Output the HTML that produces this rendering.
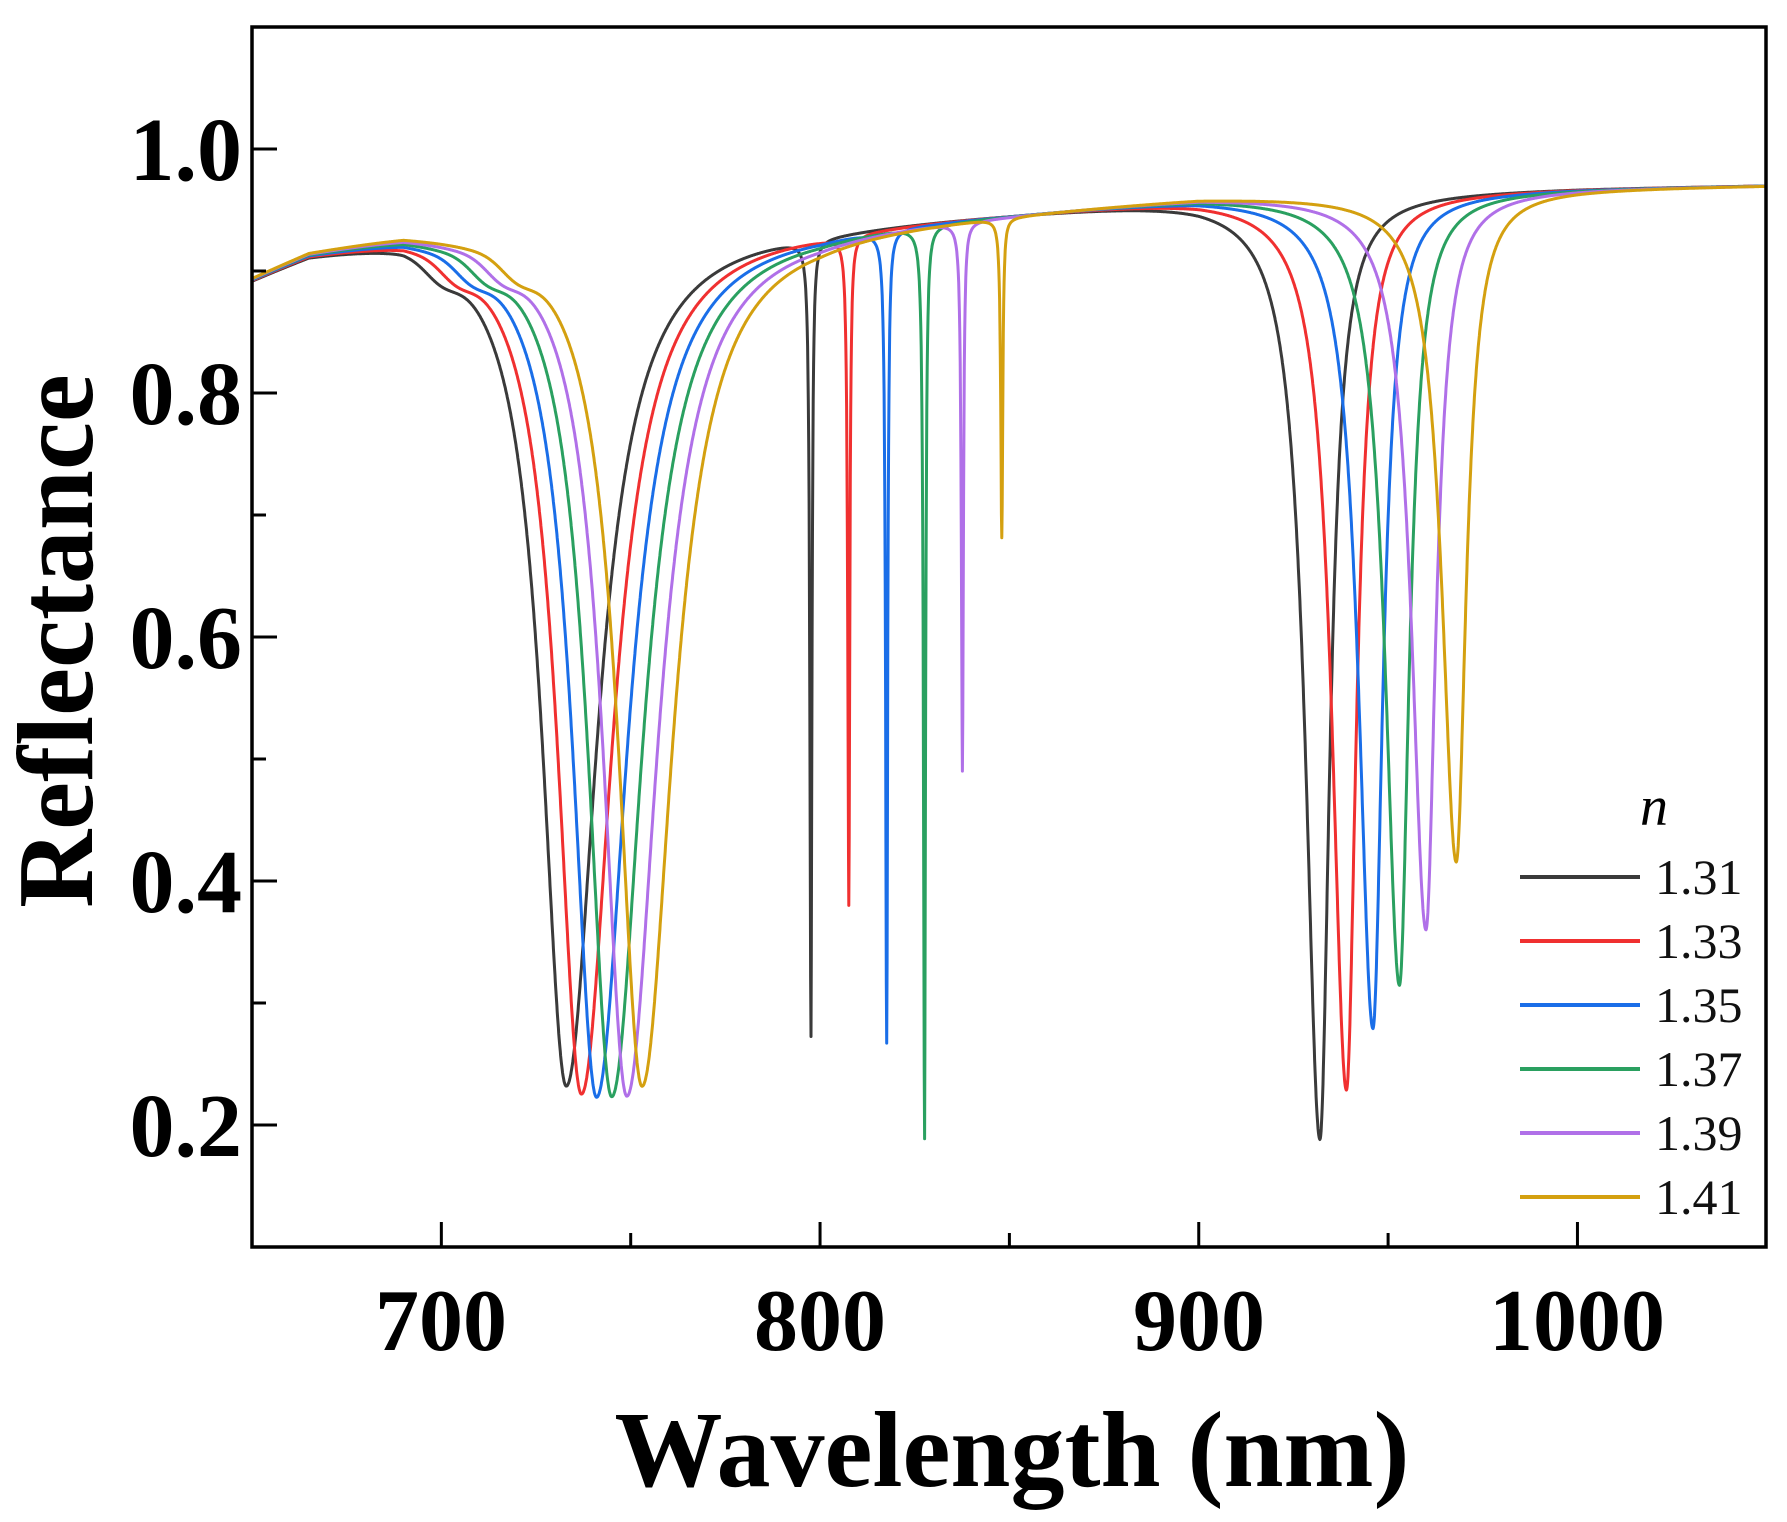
<!DOCTYPE html>
<html><head><meta charset="utf-8"><style>
html,body{margin:0;padding:0;background:#fff;}
svg{display:block;}
</style></head><body>
<svg id="s" width="1787" height="1522" viewBox="0 0 1787 1522" xmlns="http://www.w3.org/2000/svg">
<defs><clipPath id="c"><rect x="252" y="27" width="1514" height="1220"/></clipPath></defs>
<g id="curves" clip-path="url(#c)" fill="none" stroke-width="3" stroke-linejoin="round"></g>
<rect x="252" y="27" width="1514" height="1220" fill="none" stroke="#000" stroke-width="3.5"/>
<g id="ticks" stroke="#000" stroke-width="3"></g>
<g font-family="'Liberation Serif',serif" font-weight="bold" font-size="90" fill="#000" text-anchor="end">
<text x="242" y="180">1.0</text>
<text x="242" y="424">0.8</text>
<text x="242" y="668">0.6</text>
<text x="242" y="912">0.4</text>
<text x="242" y="1156">0.2</text>
</g>
<g font-family="'Liberation Serif',serif" font-weight="bold" font-size="88" fill="#000" text-anchor="middle">
<text x="441" y="1350">700</text>
<text x="820" y="1350">800</text>
<text x="1199" y="1350">900</text>
<text x="1577" y="1350">1000</text>
</g>
<text x="1012" y="1486" font-family="'Liberation Serif',serif" font-weight="bold" font-size="108" text-anchor="middle">Wavelength (nm)</text>
<text transform="translate(92,641) rotate(-90)" font-family="'Liberation Serif',serif" font-weight="bold" font-size="108" text-anchor="middle">Reflectance</text>
<text x="1640" y="825" font-family="'Liberation Serif',serif" font-style="italic" font-size="56">n</text>
<g id="leg" font-family="'Liberation Serif',serif" font-size="50" fill="#111"></g>
</svg>
<script>
var X=function(l){return 252+(l-650)*3.787;};
var Y=function(r){return 27+(1.1-r)*1220;};
var cols=["#3a3a3a","#f03030","#1a6ee8","#2aa060","#b070e8","#d4a010"];
var labs=["1.31","1.33","1.35","1.37","1.39","1.41"];
var c1=[733,737,741,745,749,753],m1=[0.232,0.225,0.222,0.222,0.222,0.23];
var c3=[797.6,807.6,817.6,827.6,837.6,848],m3=[0.29,0.395,0.28,0.2,0.5,0.69];
var c2=[932,939,946,953,960,968],m2=[0.185,0.225,0.275,0.31,0.355,0.41];
var bp=[[650,.898],[665,.92],[690,.936],[750,.942],[800,.942],[850,.952],[900,.963],[1000,.969],[1050,.971]];
function base(x){for(var i=0;i<bp.length-1;i++){if(x<=bp[i+1][0]){var t=(x-bp[i][0])/(bp[i+1][0]-bp[i][0]);return bp[i][1]+t*(bp[i+1][1]-bp[i][1]);}}return .971;}
function lor(x,c,gl,gr){var g=x<c?gl:gr;var d=x-c;return g*g/(d*d+g*g);}
var G=document.getElementById("curves");
for(var k=0;k<6;k++){
 var pts=[];
 for(var i=0;i<=4000;i++){
  var x=650+i*0.1;
  var b=base(x);
  var r=b;
  r-= (0.94-m1[k])*lor(x,c1[k],7.8,10);
  r-= 0.012*Math.exp(-Math.pow((x-(c1[k]-33))/6,2));
  r-= (0.96-m2[k])*lor(x,c2[k],4.6,3.2);
  r-= (b-m3[k])*lor(x,c3[k],0.35,0.3);
  pts.push(X(x).toFixed(1)+","+Y(r).toFixed(1));
 }
 var p=document.createElementNS("http://www.w3.org/2000/svg","polyline");
 p.setAttribute("points",pts.join(" "));p.setAttribute("stroke",cols[k]);
 G.appendChild(p);
}
var T=document.getElementById("ticks"),h="";
[1.0,0.8,0.6,0.4,0.2].forEach(function(v){h+='<line x1="252" x2="277" y1="'+Y(v)+'" y2="'+Y(v)+'"/>';});
[0.9,0.7,0.5,0.3].forEach(function(v){h+='<line x1="252" x2="266" y1="'+Y(v)+'" y2="'+Y(v)+'"/>';});
[700,800,900,1000].forEach(function(v){h+='<line y1="1247" y2="1222" x1="'+X(v)+'" x2="'+X(v)+'"/>';});
[750,850,950].forEach(function(v){h+='<line y1="1247" y2="1233" x1="'+X(v)+'" x2="'+X(v)+'"/>';});
T.innerHTML=h;
var L=document.getElementById("leg"),s="";
var ly=[877,941,1005,1069,1133,1197];
for(var k=0;k<6;k++){s+='<line x1="1520" x2="1640" y1="'+ly[k]+'" y2="'+ly[k]+'" stroke="'+cols[k]+'" stroke-width="4"/><text x="1655" y="'+(ly[k]+17)+'">'+labs[k]+'</text>';}
L.innerHTML=s;
</script>
</body></html>
